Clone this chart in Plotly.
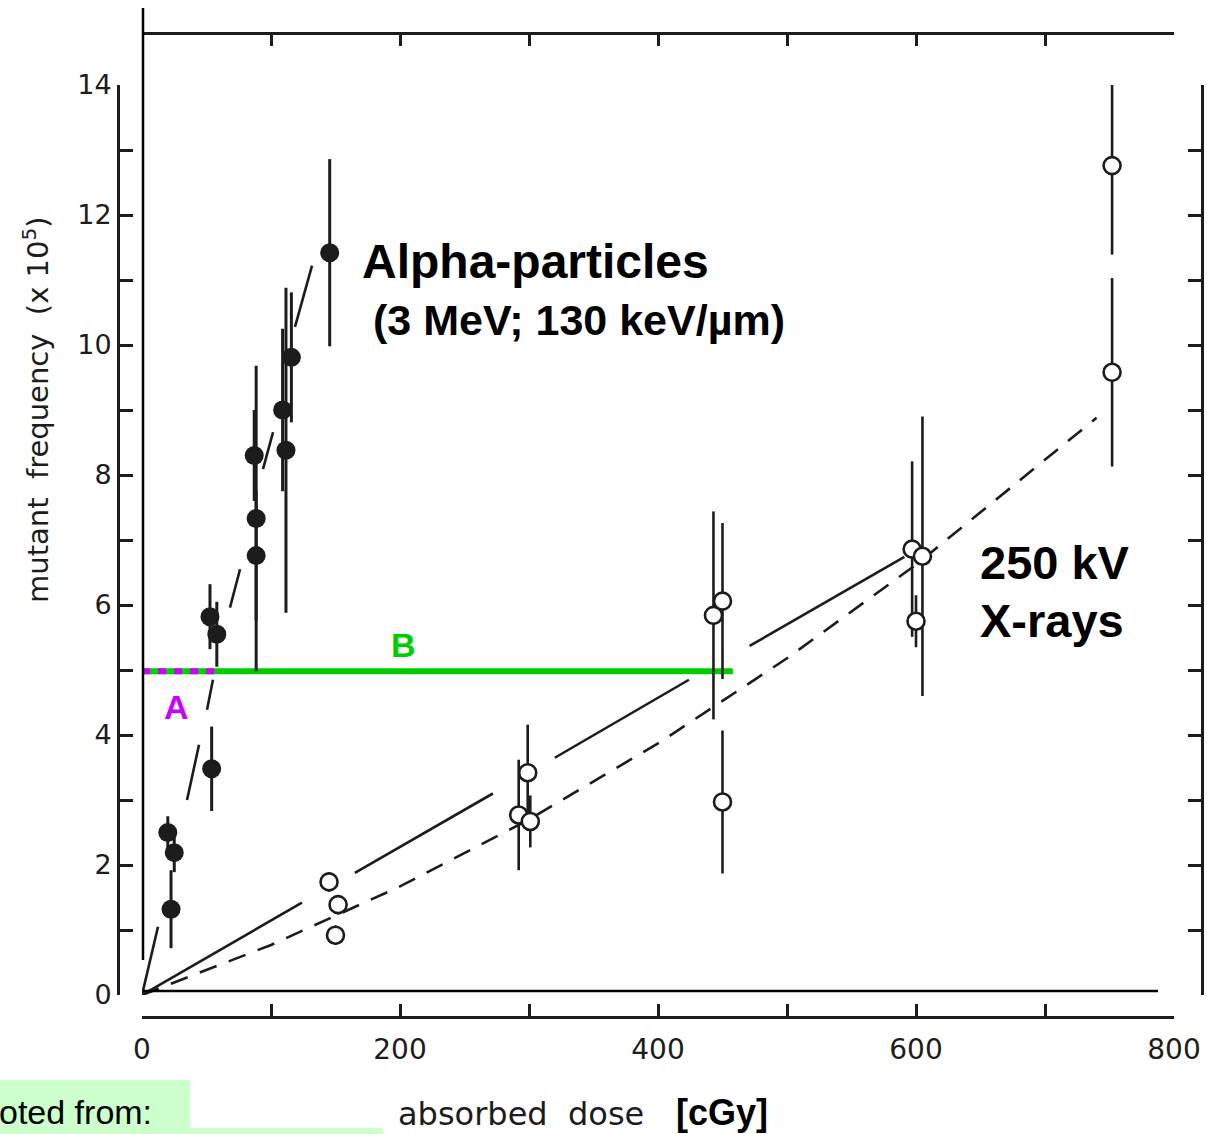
import plotly.graph_objects as go

# ---------------- data ----------------
alpha_dose = [20, 25, 22.5, 52.7, 58, 54, 87, 88.5, 88.5, 109, 111.6, 115.8, 145.5]
alpha_freq = [2.50, 2.19, 1.32, 5.82, 5.55, 3.48, 8.30, 7.33, 6.76, 9.00, 8.38, 9.81, 11.42]
alpha_err = [0.25, 0.30, 0.60, 0.50, 0.50, 0.65, 0.70, 2.35, 1.00, 1.25, 2.50, 1.00, 1.44]

xray_dose = [145, 152, 150, 292, 299, 301, 443, 450, 450, 597, 605, 600, 752, 752]
xray_freq = [1.74, 1.39, 0.92, 2.77, 3.42, 2.67, 5.84, 6.06, 2.97, 6.86, 6.75, 5.75, 12.76, 9.58]
xray_err = [0.15, 0.15, 0.15, 0.85, 0.74, 0.40, 1.60, 1.20, 1.10, 1.35, 2.15, 0.40, 1.37, 1.45]

# fitted curves as drawn (segments separated by None)
alpha_fit_dose = [0, 12.4, None, 34.9, 44.2, None, 50.4, 55, None, 68.2, 76, None, 93.8, 101.6, None, 118.6, 131.8]
alpha_fit_freq = [0, 1.05, None, 3.0, 3.85, None, 4.39, 4.85, None, 5.96, 6.55, None, 8.09, 8.66, None, 10.28, 11.22]

xray_lin_dose = [0, 124, None, 165, 272, None, 320, 424, None, 471, 591]
xray_lin_freq = [0, 1.42, None, 1.88, 3.10, None, 3.65, 4.85, None, 5.37, 6.74]

xray_lq_dose = [0, 100, 200, 300, 400, 500, 600, 740]
xray_lq_freq = [0, 0.77, 1.67, 2.70, 3.87, 5.18, 6.62, 8.88]

iso_level = 4.98
iso_b_dose = [0, 458]
iso_a_dose = [0, 57]

x_ticks = [0, 100, 200, 300, 400, 500, 600, 700, 800]
x_ticklabels = ["0", " ", "200", " ", "400", " ", "600", " ", "800"]
y_ticks = list(range(0, 15))
y_ticklabels = [str(v) if v % 2 == 0 else " " for v in y_ticks]

# ---------------- styling ----------------
W, H = 1207, 1134
ML, MR, MT, MB = 118, 5, 33, 117
PW, PH = W - ML - MR, H - MT - MB


def px_x(p):
    return (p - ML) / PW


def px_y(p):
    return (H - MB - p) / PH


INK = "#1c1c1c"
SCAN_FONT = "DejaVu Sans"

fig = go.Figure()

# fit lines
fig.add_trace(go.Scatter(x=alpha_fit_dose, y=alpha_fit_freq, mode="lines",
                         line=dict(color=INK, width=2.6), hoverinfo="skip", showlegend=False))
fig.add_trace(go.Scatter(x=xray_lin_dose, y=xray_lin_freq, mode="lines",
                         line=dict(color=INK, width=2.6), hoverinfo="skip", showlegend=False))
fig.add_trace(go.Scatter(x=xray_lq_dose, y=xray_lq_freq, mode="lines",
                         line=dict(color=INK, width=2.6, dash="18px,13px"),
                         hoverinfo="skip", showlegend=False))

# iso-effect lines A / B
fig.add_trace(go.Scatter(x=iso_b_dose, y=[iso_level, iso_level], mode="lines",
                         line=dict(color="#00cc00", width=6), hoverinfo="skip", showlegend=False))
fig.add_trace(go.Scatter(x=iso_a_dose, y=[iso_level, iso_level], mode="lines",
                         line=dict(color="#cc00ff", width=6, dash="8px,8px"),
                         hoverinfo="skip", showlegend=False))

# data points
fig.add_trace(go.Scatter(x=alpha_dose, y=alpha_freq, mode="markers",
                         marker=dict(symbol="circle", size=19, color=INK,
                                     line=dict(color=INK, width=0)),
                         error_y=dict(type="data", array=alpha_err, color=INK,
                                      thickness=3, width=0),
                         cliponaxis=False, showlegend=False))
fig.add_trace(go.Scatter(x=xray_dose, y=xray_freq, mode="markers",
                         marker=dict(symbol="circle", size=17, color="white",
                                     line=dict(color=INK, width=2.6)),
                         error_y=dict(type="data", array=xray_err, color=INK,
                                      thickness=2.6, width=0),
                         cliponaxis=False, showlegend=False))

xd = [px_x(142), px_x(1174)]
yd = [px_y(995), px_y(85)]

axis_common = dict(showgrid=False, zeroline=False, showline=True, linecolor=INK,
                   linewidth=3, ticks="inside", tickcolor=INK, tickwidth=3,
                   automargin=False)

fig.update_layout(
    width=W, height=H,
    margin=dict(l=ML, r=MR, t=MT, b=MB, pad=0, autoexpand=False),
    paper_bgcolor="white", plot_bgcolor="white",
    showlegend=False,
    xaxis=dict(domain=xd, range=[0, 800], anchor="free", position=0,
               tickvals=x_ticks, ticktext=x_ticklabels, ticklen=12,
               ticklabelstandoff=6,
               tickfont=dict(family=SCAN_FONT, size=28, color=INK), **axis_common),
    xaxis2=dict(overlaying="x", side="top", range=[0, 800], anchor="free", position=1,
                tickvals=x_ticks, showticklabels=False, ticklen=11, **axis_common),
    yaxis=dict(domain=yd, range=[0, 14], anchor="free", position=0,
               tickvals=y_ticks, ticktext=y_ticklabels, ticklen=13,
               ticklabelstandoff=0,
               tickfont=dict(family=SCAN_FONT, size=27, color=INK), **axis_common),
    yaxis2=dict(overlaying="y", side="right", range=[0, 14], anchor="free", position=1,
                tickvals=y_ticks, showticklabels=False, ticklen=13, **axis_common),
)

# dummy trace so overlay axes render
fig.add_trace(go.Scatter(x=[None], y=[None], xaxis="x2", yaxis="y2", showlegend=False))

shapes = [
    # thin overlay frame lines
    dict(type="line", xref="paper", yref="paper", x0=px_x(143), x1=px_x(143),
         y0=px_y(960), y1=px_y(8), line=dict(color="black", width=2.5)),
    dict(type="line", xref="paper", yref="paper", x0=px_x(143), x1=px_x(1158),
         y0=px_y(991), y1=px_y(991), line=dict(color="black", width=2.5)),
    # source box
    dict(type="rect", xref="paper", yref="paper", x0=px_x(0), x1=px_x(190),
         y0=px_y(1134), y1=px_y(1080), fillcolor="#ccffcc", line=dict(width=0), layer="below"),
    dict(type="rect", xref="paper", yref="paper", x0=px_x(190), x1=px_x(383),
         y0=px_y(1134), y1=px_y(1128), fillcolor="#ccffcc", line=dict(width=0), layer="below"),
]
fig.update_layout(shapes=shapes)

BOLD = "Liberation Sans, Arial, sans-serif"
ann = [
    dict(x=px_x(360), y=px_y(261), xref="paper", yref="paper", text="<b>Alpha-particles</b>",
         xanchor="left", yanchor="middle", showarrow=False,
         font=dict(family=BOLD, size=48, color="black")),
    dict(x=px_x(371), y=px_y(320), xref="paper", yref="paper", text="<b>(3 MeV; 130 keV/µm)</b>",
         xanchor="left", yanchor="middle", showarrow=False,
         font=dict(family=BOLD, size=43, color="black")),
    dict(x=px_x(978), y=px_y(562), xref="paper", yref="paper", text="<b>250 kV</b>",
         xanchor="left", yanchor="middle", showarrow=False,
         font=dict(family=BOLD, size=47, color="black")),
    dict(x=px_x(978), y=px_y(620), xref="paper", yref="paper", text="<b>X-rays</b>",
         xanchor="left", yanchor="middle", showarrow=False,
         font=dict(family=BOLD, size=47, color="black")),
    dict(x=px_x(403), y=px_y(645), xref="paper", yref="paper", text="<b>B</b>",
         xanchor="center", yanchor="middle", showarrow=False,
         font=dict(family=BOLD, size=34, color="#00cc00")),
    dict(x=px_x(176), y=px_y(707), xref="paper", yref="paper", text="<b>A</b>",
         xanchor="center", yanchor="middle", showarrow=False,
         font=dict(family=BOLD, size=34, color="#cc00ff")),
    dict(x=px_x(396), y=px_y(1114), xref="paper", yref="paper", text="absorbed  dose",
         xanchor="left", yanchor="middle", showarrow=False,
         font=dict(family=SCAN_FONT, size=32, color=INK)),
    dict(x=px_x(674), y=px_y(1112), xref="paper", yref="paper", text="<b>[cGy]</b>",
         xanchor="left", yanchor="middle", showarrow=False,
         font=dict(family=BOLD, size=36, color="black")),
    dict(x=px_x(-3), y=px_y(1112), xref="paper", yref="paper", text="oted from:",
         xanchor="left", yanchor="middle", showarrow=False,
         font=dict(family=BOLD, size=34, color="black")),
    dict(x=px_x(36), y=px_y(410), xref="paper", yref="paper",
         text="mutant  frequency  (x 10<sup>5</sup>)", textangle=-90,
         xanchor="center", yanchor="middle", showarrow=False,
         font=dict(family=SCAN_FONT, size=29, color=INK)),
]
fig.update_layout(annotations=ann)

fig.write_html("out.html")
